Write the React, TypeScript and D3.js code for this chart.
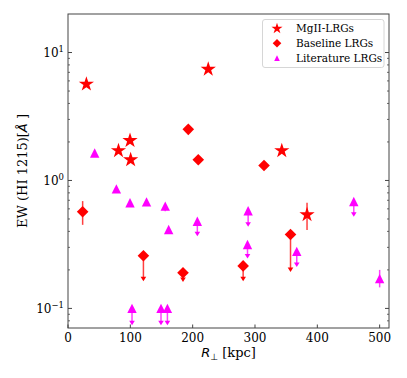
import React from 'react';
import * as d3 from 'd3';

// MgII-selected LRGs (stars)
const mgiiR = [29.5, 225, 81, 99.5, 100.5, 343, 383.5];
const mgiiEW = [5.66, 7.4, 1.71, 2.05, 1.45, 1.71, 0.54];
const mgiiErrLo = [null, null, null, null, null, null, 0.41];
const mgiiErrHi = [null, null, null, null, null, null, 0.67];

// Baseline LRGs (diamonds); limitTo = tip of the upper-limit arrow
const baselineR = [23.5, 193, 209, 314.5, 121, 184.5, 281, 357];
const baselineEW = [0.57, 2.51, 1.45, 1.31, 0.258, 0.19, 0.215, 0.378];
const baselineErrLo = [0.45, null, null, null, null, null, null, null];
const baselineErrHi = [0.69, null, null, null, null, null, null, null];
const baselineLimitTo = [null, null, null, null, 0.163, 0.161, 0.163, 0.193];

// Literature LRGs (triangles)
const litR = [42.8, 77.6, 99.5, 126, 156, 161.5, 207.5, 289, 288, 367, 458.5, 500, 102.7, 149.2, 159.5];
const litEW = [1.64, 0.86, 0.67, 0.68, 0.63, 0.414, 0.48, 0.58, 0.316, 0.279, 0.685, 0.171, 0.1, 0.1, 0.1];
const litErrLo = [null, null, null, null, 0.575, null, null, null, null, null, null, 0.146, null, null, null];
const litErrHi = [null, null, null, null, null, null, null, null, null, null, null, 0.2, null, null, null];
const litLimitTo = [null, null, null, null, null, null, 0.367, 0.434, 0.246, 0.211, 0.52, null, 0.074, 0.074, 0.074];

const xTicks = [0, 100, 200, 300, 400, 500];
const yMajor = [0.1, 1, 10];
const yMajorExp = ['\u22121', '0', '1'];

const legendLabels = ['MgII-LRGs', 'Baseline LRGs', 'Literature LRGs'];

const RED = '#ff0000';
const MAG = '#ff00ff';
const FONT = 'DejaVu Serif, serif';

const width = 407;
const height = 378;
const margin = { top: 14, right: 18, bottom: 50, left: 68 };

const diamond = (s: number) => `M0,${-s}L${s},0L0,${s}L${-s},0Z`;
const triangle = (s: number) => `M0,${-s}L${s},${s}L${-s},${s}Z`;
const star = (r: number) => d3.symbol(d3.symbolStar, (r * r) / 0.8908130915292852)() as string;

export default function App() {
	const x = d3.scaleLinear().domain([0, 515]).range([margin.left, width - margin.right]);
	const y = d3.scaleLog().domain([0.0703, 20]).range([height - margin.bottom, margin.top]);

	const minorY: number[] = [];
	[0.01, 0.1, 1, 10].forEach((d) => {
		for (let k = 2; k <= 9; k++) {
			const v = d * k;
			if (v > 0.0703 && v < 20) minorY.push(v);
		}
	});

	const x0 = x.range()[0];
	const x1 = x.range()[1];
	const y0 = y.range()[0];
	const y1 = y.range()[1];

	const errBars = (r: number[], lo: (number | null)[], hi: (number | null)[], ew: number[], color: string) =>
		r.map((d, i) =>
			lo[i] != null ? (
				<line key={'e' + i} x1={x(d)} x2={x(d)} y1={y(hi[i] ?? ew[i])} y2={y(lo[i] as number)} stroke={color} strokeOpacity={0.75} strokeWidth={1.5} />
			) : null
		);

	const limits = (r: number[], lim: (number | null)[], ew: number[], color: string) =>
		r.map((d, i) => {
			if (lim[i] == null) return null;
			const tx = x(d);
			const ty = y(lim[i] as number);
			return (
				<g key={'l' + i}>
					<line x1={tx} x2={tx} y1={y(ew[i])} y2={ty - 2} stroke={color} strokeOpacity={0.75} strokeWidth={1.5} />
					<path d={`M${tx - 2.8},${ty - 4.5}L${tx + 2.8},${ty - 4.5}L${tx},${ty}Z`} fill={color} />
				</g>
			);
		});

	return (
		<svg width={width} height={height} style={{ position: 'fixed', left: 0, top: 0, background: '#fff' }} fontFamily={FONT}>
			<rect x={0} y={0} width={width} height={height} fill="#fff" />

			{/* error bars and limits */}
			{errBars(baselineR, baselineErrLo, baselineErrHi, baselineEW, RED)}
			{errBars(mgiiR, mgiiErrLo, mgiiErrHi, mgiiEW, RED)}
			{errBars(litR, litErrLo, litErrHi, litEW, MAG)}
			{limits(baselineR, baselineLimitTo, baselineEW, RED)}
			{limits(litR, litLimitTo, litEW, MAG)}

			{/* markers */}
			{litR.map((d, i) => (
				<path key={'t' + i} d={triangle(4.7)} transform={`translate(${x(d)},${y(litEW[i])})`} fill={MAG} />
			))}
			{baselineR.map((d, i) => (
				<path key={'d' + i} d={diamond(5.8)} transform={`translate(${x(d)},${y(baselineEW[i])})`} fill={RED} />
			))}
			{mgiiR.map((d, i) => (
				<path key={'s' + i} d={star(8)} transform={`translate(${x(d)},${y(mgiiEW[i])})`} fill={RED} />
			))}

			{/* frame */}
			<rect x={x0} y={y1} width={x1 - x0} height={y0 - y1} fill="none" stroke="#444" strokeWidth={1} />

			{/* x ticks */}
			{xTicks.map((t) => (
				<g key={'xt' + t}>
					<line x1={x(t)} x2={x(t)} y1={y0} y2={y0 - 3.5} stroke="#444" />
					<text x={x(t)} y={y0 + 14} textAnchor="middle" fontSize={12} fill="#000">
						{t}
					</text>
				</g>
			))}

			{/* y ticks */}
			{yMajor.map((t, i) => (
				<g key={'ym' + t}>
					<line x1={x0} x2={x0 + 4} y1={y(t)} y2={y(t)} stroke="#444" />
					<line x1={x1} x2={x1 - 4} y1={y(t)} y2={y(t)} stroke="#444" />
					<text x={x0 - 4} y={y(t) + 4.5} textAnchor="end" fontSize={12} fill="#000">
						10
						<tspan fontSize={8.5} dy={-5}>
							{yMajorExp[i]}
						</tspan>
					</text>
				</g>
			))}
			{minorY.map((t) => (
				<g key={'yn' + t}>
					<line x1={x0} x2={x0 + 2} y1={y(t)} y2={y(t)} stroke="#444" strokeWidth={0.8} />
					<line x1={x1} x2={x1 - 2} y1={y(t)} y2={y(t)} stroke="#444" strokeWidth={0.8} />
				</g>
			))}

			{/* axis labels */}
			<text x={(x0 + x1) / 2} y={357} textAnchor="middle" fontSize={13} fill="#000">
				<tspan fontFamily="DejaVu Sans" fontStyle="italic">R</tspan>
				<tspan fontFamily="DejaVu Sans" fontSize={9} dy={3}>
					{'\u22a5'}
				</tspan>
				<tspan dy={-3}> [kpc]</tspan>
			</text>
			<text transform={`translate(27,${(y0 + y1) / 2}) rotate(-90)`} textAnchor="middle" fontSize={13} fill="#000">
				EW (HI 1215)[<tspan fontFamily="DejaVu Sans" fontStyle="italic">Å</tspan> ]
			</text>

			{/* legend */}
			<g>
				<rect x={262.5} y={19.5} width={121.5} height={48} rx={2.5} fill="#fff" fillOpacity={0.8} stroke="#d6d6d6" />
				{legendLabels.map((l, i) => {
					const ly = 28.5 + i * 14.8;
					return (
						<g key={l}>
							{i === 0 && <path d={star(5.8)} transform={`translate(277,${ly})`} fill={RED} />}
							{i === 1 && <path d={diamond(4.3)} transform={`translate(277,${ly})`} fill={RED} />}
							{i === 2 && <path d={triangle(2.8)} transform={`translate(277,${ly})`} fill={MAG} />}
							<text x={296} y={ly + 3.8} fontSize={10.5} fill="#000">
								{l}
							</text>
						</g>
					);
				})}
			</g>
		</svg>
	);
}
